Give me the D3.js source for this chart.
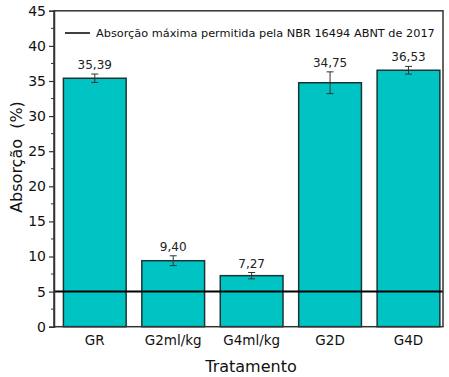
<!DOCTYPE html>
<html>
<head>
<meta charset="utf-8">
<script src="https://cdn.jsdelivr.net/npm/d3@7"></script>
<style>
  body { margin: 0; background: #fff; }
  svg { font-family: "DejaVu Sans", Verdana, sans-serif; }
</style>
</head>
<body>
<svg width="449" height="377"></svg>
<script>
const categories = ["GR", "G2ml/kg", "G4ml/kg", "G2D", "G4D"];
const values = [35.39, 9.40, 7.27, 34.75, 36.53];
const errors = [0.6, 0.7, 0.45, 1.55, 0.55];
const valueLabels = ["35,39", "9,40", "7,27", "34,75", "36,53"];
const yTicks = [0, 5, 10, 15, 20, 25, 30, 35, 40, 45];
const limitValue = 5;
const legendText = "Absorção máxima permitida pela NBR 16494 ABNT de 2017";

const svg = d3.select("svg");
const plotLeft = 54, plotRight = 443, plotTop = 10.8, plotBottom = 326.7;

// x as category index, slightly offset like the original
const x = d3.scaleLinear().domain([0.48, 5.44]).range([plotLeft, plotRight]);
const y = d3.scaleLinear().domain([0, 45]).range([plotBottom, plotTop]);
const barW = x(1.8) - x(1);

// bars
svg.selectAll("rect.bar")
  .data(values)
  .enter()
  .append("rect")
  .attr("class", "bar")
  .attr("x", (d, i) => x(i + 1) - barW / 2)
  .attr("y", d => y(d))
  .attr("width", barW)
  .attr("height", d => y(0) - y(d))
  .attr("fill", "#00c4c4")
  .attr("stroke", "#1c3434")
  .attr("stroke-width", 1.5);

// error bars
const eb = svg.selectAll("g.err")
  .data(values)
  .enter()
  .append("g")
  .attr("stroke", "#333")
  .attr("stroke-width", 1);
eb.append("line")
  .attr("x1", (d, i) => x(i + 1)).attr("x2", (d, i) => x(i + 1))
  .attr("y1", (d, i) => y(d + errors[i])).attr("y2", (d, i) => y(d - errors[i]));
eb.append("line")
  .attr("x1", (d, i) => x(i + 1) - 3.5).attr("x2", (d, i) => x(i + 1) + 3.5)
  .attr("y1", (d, i) => y(d + errors[i])).attr("y2", (d, i) => y(d + errors[i]));
eb.append("line")
  .attr("x1", (d, i) => x(i + 1) - 3.5).attr("x2", (d, i) => x(i + 1) + 3.5)
  .attr("y1", (d, i) => y(d - errors[i])).attr("y2", (d, i) => y(d - errors[i]));

// value labels
svg.selectAll("text.val")
  .data(values)
  .enter()
  .append("text")
  .attr("x", (d, i) => x(i + 1))
  .attr("y", (d, i) => y(d + errors[i]) - 5)
  .attr("text-anchor", "middle")
  .attr("font-size", 12)
  .attr("fill", "#222")
  .text((d, i) => valueLabels[i]);

// limit line
svg.append("line")
  .attr("x1", plotLeft).attr("x2", plotRight)
  .attr("y1", y(limitValue)).attr("y2", y(limitValue))
  .attr("stroke", "#000")
  .attr("stroke-width", 2);

// frame
svg.append("rect")
  .attr("x", plotLeft).attr("y", plotTop)
  .attr("width", plotRight - plotLeft).attr("height", plotBottom - plotTop)
  .attr("fill", "none")
  .attr("stroke", "#333")
  .attr("stroke-width", 1.5);

// y axis with minor ticks
const yAxis = svg.append("g")
  .attr("transform", `translate(${plotLeft},0)`)
  .call(d3.axisLeft(y).tickValues(yTicks).tickSize(5).tickPadding(3).tickFormat(d3.format("d")));
yAxis.select(".domain").attr("stroke", "#333").attr("stroke-width", 1.5);
yAxis.selectAll(".tick line").attr("stroke", "#333").attr("stroke-width", 1.2);
yAxis.selectAll("text").attr("font-size", 14).attr("font-family", "DejaVu Sans").attr("fill", "#111");
svg.append("g")
  .attr("transform", `translate(${plotLeft},0)`)
  .selectAll("line")
  .data(d3.range(2.5, 45, 5))
  .enter()
  .append("line")
  .attr("x1", 0).attr("x2", -3)
  .attr("y1", d => y(d)).attr("y2", d => y(d))
  .attr("stroke", "#333");

// x category labels
svg.selectAll("text.cat")
  .data(categories)
  .enter()
  .append("text")
  .attr("x", (d, i) => x(i + 1))
  .attr("y", 345)
  .attr("text-anchor", "middle")
  .attr("font-size", 13.5)
  .attr("fill", "#111")
  .text(d => d);

// axis titles
svg.append("text")
  .attr("x", 251)
  .attr("y", 372)
  .attr("text-anchor", "middle")
  .attr("font-size", 16)
  .attr("fill", "#111")
  .text("Tratamento");
svg.append("text")
  .attr("transform", `translate(22,157) rotate(-90)`)
  .attr("text-anchor", "middle")
  .attr("font-size", 16)
  .attr("fill", "#111")
  .attr("xml:space", "preserve")
  .text("Absorção  (%)");

// legend
svg.append("line")
  .attr("x1", 65).attr("x2", 90)
  .attr("y1", 33).attr("y2", 33)
  .attr("stroke", "#000").attr("stroke-width", 1.5);
svg.append("text")
  .attr("x", 96).attr("y", 37)
  .attr("font-size", 11.3)
  .attr("fill", "#111")
  .text(legendText);
</script>
</body>
</html>
